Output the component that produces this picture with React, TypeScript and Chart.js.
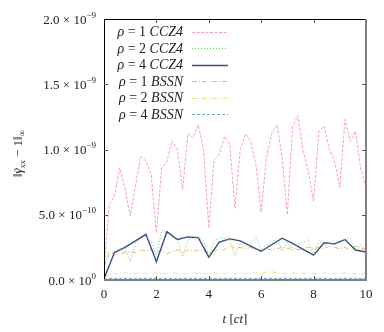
import React, { useEffect, useRef } from "react";
import { Chart, registerables } from "chart.js";
Chart.register(...registerables);

// time grids
const times02 = [0, 0.2, 0.4, 0.6, 0.8, 1, 1.2, 1.4, 1.6, 1.8, 2, 2.2, 2.4, 2.6, 2.8, 3, 3.2, 3.4, 3.6, 3.8, 4, 4.2, 4.4, 4.6, 4.8, 5, 5.2, 5.4, 5.6, 5.8, 6, 6.2, 6.4, 6.6, 6.8, 7, 7.2, 7.4, 7.6, 7.8, 8, 8.2, 8.4, 8.6, 8.8, 9, 9.2, 9.4, 9.6, 9.8, 10];
const times04 = [0, 0.4, 0.8, 1.2, 1.6, 2, 2.4, 2.8, 3.2, 3.6, 4, 4.4, 4.8, 5.2, 5.6, 6, 6.4, 6.8, 7.2, 7.6, 8, 8.4, 8.8, 9.2, 9.6, 10];

// values in units of 1e-9
const rho1CCZ4 = [
  0.10, 0.58, 0.64, 0.86, 0.70,
  0.49, 0.72, 0.95, 0.91, 0.81,
  0.36, 0.86, 0.91, 1.07, 1.00,
  0.69, 1.12, 1.09, 1.19, 1.00,
  0.40, 0.92, 0.96, 1.10, 1.04,
  0.55, 1.00, 1.12, 1.06, 0.88,
  0.52, 0.94, 1.12, 1.19, 0.94,
  0.50, 1.18, 1.26, 0.99, 0.83,
  0.60, 1.14, 1.18, 1.00, 0.91,
  0.71, 1.23, 1.06, 1.14, 0.85,
  0.71,
];
const rho2CCZ4 = [
  0.11, 0.19, 0.22, 0.235, 0.25,
  0.14, 0.28, 0.31, 0.33, 0.30,
  0.18, 0.38, 0.36, 0.33, 0.30,
  0.18, 0.31, 0.32, 0.325, 0.30,
  0.18, 0.30, 0.32, 0.32, 0.31,
  0.19, 0.28, 0.25, 0.28, 0.33,
  0.23, 0.27, 0.28, 0.32, 0.22,
  0.29, 0.22, 0.27, 0.29, 0.31,
  0.19, 0.30, 0.26, 0.28, 0.27,
  0.29, 0.31, 0.32, 0.24, 0.27,
  0.22,
];
const rho4CCZ4 = [0.01, 0.21, 0.25, 0.30, 0.35, 0.14, 0.37, 0.31, 0.33, 0.325, 0.175, 0.29, 0.315, 0.30, 0.26, 0.22, 0.27, 0.32, 0.28, 0.235, 0.19, 0.285, 0.277, 0.31, 0.23, 0.215];
const rho1BSSN = [
  0.10, 0.22, 0.19, 0.20, 0.21,
  0.22, 0.21, 0.23, 0.22, 0.24,
  0.21, 0.23, 0.20, 0.22, 0.23,
  0.21, 0.23, 0.22, 0.23, 0.22,
  0.21, 0.22, 0.24, 0.23, 0.27,
  0.24, 0.25, 0.24, 0.25, 0.23,
  0.22, 0.24, 0.23, 0.24, 0.25,
  0.24, 0.25, 0.23, 0.24, 0.25,
  0.24, 0.25, 0.24, 0.26, 0.25,
  0.24, 0.25, 0.23, 0.26, 0.24,
  0.24,
];
const rho2BSSN = [
  0.02, 0.04, 0.05, 0.05, 0.055,
  0.05, 0.05, 0.055, 0.05, 0.05,
  0.055, 0.05, 0.05, 0.055, 0.05,
  0.05, 0.05, 0.055, 0.05, 0.05,
  0.05, 0.055, 0.05, 0.05, 0.05,
  0.05, 0.055, 0.05, 0.05, 0.055,
  0.05, 0.06, 0.065, 0.055, 0.05,
  0.05, 0.055, 0.05, 0.05, 0.055,
  0.05, 0.05, 0.055, 0.05, 0.05,
  0.05, 0.055, 0.05, 0.05, 0.045,
  0.05,
];
const rho4BSSN = [
  0.005, 0.012, 0.013, 0.012, 0.013,
  0.012, 0.013, 0.012, 0.013, 0.012,
  0.013, 0.012, 0.013, 0.012, 0.013,
  0.012, 0.013, 0.012, 0.013, 0.012,
  0.013, 0.012, 0.013, 0.012, 0.013,
  0.012, 0.013, 0.012, 0.013, 0.012,
  0.013, 0.012, 0.013, 0.012, 0.013,
  0.012, 0.013, 0.012, 0.013, 0.012,
  0.013, 0.012, 0.013, 0.012, 0.013,
  0.012, 0.013, 0.012, 0.013, 0.012,
  0.012,
];

const xTicks = [0, 2, 4, 6, 8, 10];
const yTicks = [0, 0.5, 1.0, 1.5, 2.0];
const yTickMantissa = ["0.0", "5.0", "1.0", "1.5", "2.0"];
const yTickExponent = ["0", "−10", "−9", "−9", "−9"];
const legendRho = ["1", "2", "4", "1", "2", "4"];
const legendScheme = ["CCZ4", "CCZ4", "CCZ4", "BSSN", "BSSN", "BSSN"];

const FONT = "'Liberation Serif', 'DejaVu Serif', serif";

type Part = { t: string; size: number; italic?: boolean; dy?: number };

function setFont(ctx: CanvasRenderingContext2D, p: Part) {
  ctx.font = `${p.italic ? "italic " : ""}${p.size}px ${FONT}`;
}
function partsWidth(ctx: CanvasRenderingContext2D, parts: Part[]) {
  let w = 0;
  for (const p of parts) {
    setFont(ctx, p);
    w += ctx.measureText(p.t).width;
  }
  return w;
}
function drawParts(ctx: CanvasRenderingContext2D, parts: Part[], x: number, y: number, align: "left" | "right" | "center") {
  const w = partsWidth(ctx, parts);
  let cx = align === "left" ? x : align === "right" ? x - w : x - w / 2;
  const starts: number[] = [];
  ctx.textAlign = "left";
  ctx.textBaseline = "alphabetic";
  for (const p of parts) {
    setFont(ctx, p);
    starts.push(cx);
    ctx.fillText(p.t, cx, y + (p.dy || 0));
    cx += ctx.measureText(p.t).width;
  }
  return starts;
}

const toXY = (ts: number[], vs: number[]) => vs.map((v, i) => ({ x: ts[i], y: v }));

const frame = {
  id: "gnuplotFrame",
  afterDraw(chart: any) {
    const { ctx, chartArea } = chart;
    const { left, right, top, bottom } = chartArea;
    const xs = chart.scales.x;
    const ys = chart.scales.y;
    ctx.save();
    // borders
    ctx.setLineDash([]);
    ctx.strokeStyle = "#000";
    ctx.lineWidth = 1;
    ctx.beginPath();
    ctx.moveTo(left + 0.5, bottom);
    ctx.lineTo(left + 0.5, top + 0.5);
    ctx.lineTo(right, top + 0.5);
    ctx.stroke();
    ctx.strokeStyle = "#808080";
    ctx.lineWidth = 2;
    ctx.beginPath();
    ctx.moveTo(left, bottom);
    ctx.lineTo(right, bottom);
    ctx.lineTo(right, top);
    ctx.stroke();
    // ticks
    ctx.lineWidth = 1;
    ctx.strokeStyle = "#555";
    for (const v of xTicks) {
      if (v === 0 || v === 10) continue;
      const px = Math.round(xs.getPixelForValue(v)) + 0.5;
      ctx.beginPath();
      ctx.moveTo(px, bottom);
      ctx.lineTo(px, bottom - 4);
      ctx.moveTo(px, top);
      ctx.lineTo(px, top + 4);
      ctx.stroke();
    }
    for (const v of yTicks) {
      if (v === 0 || v === 2) continue;
      const py = Math.round(ys.getPixelForValue(v)) + 0.5;
      ctx.beginPath();
      ctx.moveTo(left, py);
      ctx.lineTo(left + 4, py);
      ctx.moveTo(right, py);
      ctx.lineTo(right - 4, py);
      ctx.stroke();
    }
    // tick labels
    ctx.fillStyle = "#222";
    yTicks.forEach((v, i) => {
      const py = ys.getPixelForValue(v) + 4.5;
      drawParts(ctx, [
        { t: `${yTickMantissa[i]} × 10`, size: 13 },
        { t: yTickExponent[i], size: 9, dy: -6 },
      ], left - 8, py, "right");
    });
    xTicks.forEach((v) => {
      drawParts(ctx, [{ t: String(v), size: 13 }], xs.getPixelForValue(v), bottom + 18, "center");
    });
    // x title
    drawParts(ctx, [
      { t: "t", size: 13, italic: true },
      { t: " [", size: 13 },
      { t: "ct", size: 13, italic: true },
      { t: "]", size: 13 },
    ], (left + right) / 2, bottom + 43, "center");
    // y title (rotated)
    ctx.save();
    ctx.translate(22, (top + bottom) / 2 + 4);
    ctx.rotate(-Math.PI / 2);
    const gamma: Part = { t: "γ", size: 13, italic: true };
    const starts = drawParts(ctx, [
      { t: "‖", size: 13 },
      gamma,
      { t: "xx", size: 9, italic: true, dy: 3 },
      { t: " − 1‖", size: 13 },
      { t: "∞", size: 9, dy: 3 },
    ], 0, 0, "center");
    setFont(ctx, gamma);
    const gw = ctx.measureText("γ").width;
    ctx.font = `11px ${FONT}`;
    ctx.textAlign = "center";
    ctx.fillText("˜", starts[1] + gw / 2 + 1, 0);
    ctx.restore();
    // legend
    const dsets = chart.data.datasets;
    dsets.forEach((ds: any, i: number) => {
      const ry = top + 12.5 + i * 16.5;
      ctx.fillStyle = "#222";
      drawParts(ctx, [
        { t: "ρ", size: 14, italic: true },
        { t: ` = ${legendRho[i]} `, size: 14 },
        { t: legendScheme[i], size: 14, italic: true },
      ], left + 79, ry + 4.5, "right");
      ctx.strokeStyle = ds.borderColor;
      ctx.lineWidth = ds.borderWidth;
      ctx.setLineDash(ds.borderDash || []);
      ctx.beginPath();
      ctx.moveTo(left + 88, Math.round(ry) + 0.5);
      ctx.lineTo(left + 124, Math.round(ry) + 0.5);
      ctx.stroke();
    });
    ctx.restore();
  },
};

export default function App() {
  const ref = useRef<HTMLCanvasElement>(null);
  useEffect(() => {
    document.body.style.margin = "0";
    const canvas = ref.current!;
    const chart = new Chart(canvas, {
      type: "line",
      data: {
        datasets: [
          { label: "ρ = 1 CCZ4", data: toXY(times02, rho1CCZ4), borderColor: "#ff9cc0", borderWidth: 1, borderDash: [3, 1.5] },
          { label: "ρ = 2 CCZ4", data: toXY(times02, rho2CCZ4), borderColor: "#6fcc5f", borderWidth: 1, borderDash: [1, 2] },
          { label: "ρ = 4 CCZ4", data: toXY(times04, rho4CCZ4), borderColor: "#3b4a8e", borderWidth: 1.4 },
          { label: "ρ = 1 BSSN", data: toXY(times02, rho1BSSN), borderColor: "#f2b865", borderWidth: 1, borderDash: [5, 2, 1, 2] },
          { label: "ρ = 2 BSSN", data: toXY(times02, rho2BSSN), borderColor: "#efe58a", borderWidth: 1, borderDash: [5, 2, 1, 2] },
          { label: "ρ = 4 BSSN", data: toXY(times02, rho4BSSN), borderColor: "#5aa8dc", borderWidth: 1, borderDash: [3, 2] },
        ] as any,
      },
      options: {
        animation: false,
        responsive: false,
        devicePixelRatio: 1,
        layout: { padding: { left: 104, right: 18, top: 19, bottom: 52 } },
        elements: { point: { radius: 0 }, line: { tension: 0 } },
        plugins: { legend: { display: false }, tooltip: { enabled: false } },
        scales: {
          x: { type: "linear", min: 0, max: 10, display: false },
          y: { type: "linear", min: 0, max: 2, display: false },
        },
      },
      plugins: [frame],
    });
    return () => chart.destroy();
  }, []);
  return (
    <div style={{ width: 384, height: 332 }}>
      <canvas ref={ref} width={384} height={332} style={{ display: "block" }} />
    </div>
  );
}
